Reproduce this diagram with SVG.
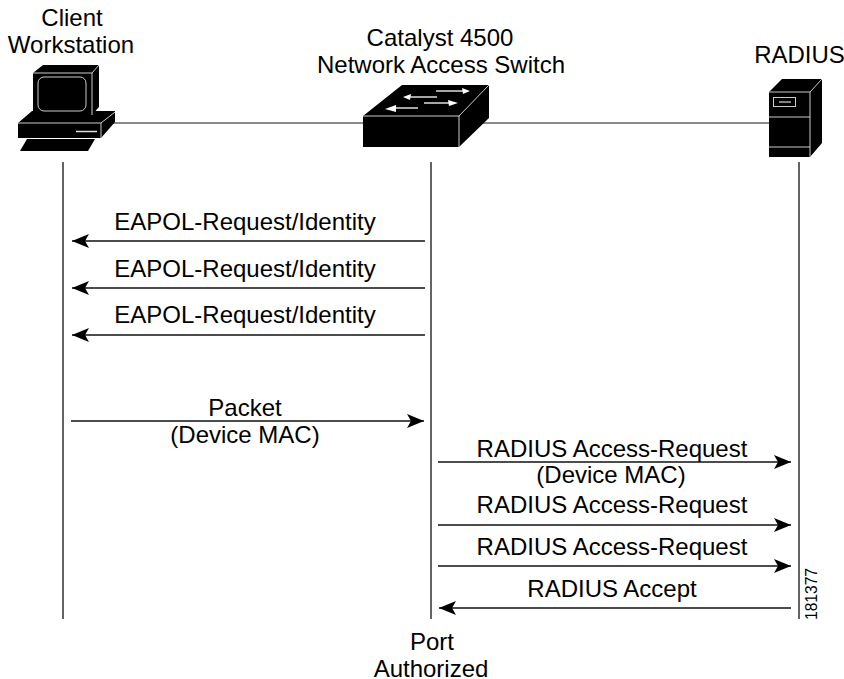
<svg xmlns="http://www.w3.org/2000/svg" width="844" height="679" viewBox="0 0 844 679">
<style>
text{font-family:"Liberation Sans",Arial,sans-serif;font-size:24px;fill:#000;text-anchor:middle}
.l{stroke:#111;stroke-width:1.300;fill:none}
.h{stroke:#666;stroke-width:1.300;fill:none}
.w{stroke:#ccc;stroke-width:1;fill:none}
.b{fill:#000}
</style>
<defs>
<marker id="a" markerUnits="userSpaceOnUse" markerWidth="18" markerHeight="14" refX="17" refY="7" orient="auto"><path d="M0 0L17 7L0 14L4 7Z" fill="#000"/></marker>
</defs>
<rect width="844" height="679" fill="#fff"/>
<g id="connectors">
<path class="h" d="M110 123H365M480 123H775"/>
<path class="l" d="M63 162V619M431 162V619M799 162V619"/>
<path class="l" marker-end="url(#a)" d="M425 241H72"/>
<path class="l" marker-end="url(#a)" d="M425 288H72"/>
<path class="l" marker-end="url(#a)" d="M425 335H72"/>
<path class="l" marker-end="url(#a)" d="M71 421H424"/>
<path class="l" marker-end="url(#a)" d="M438 462H791"/>
<path class="l" marker-end="url(#a)" d="M438 525H791"/>
<path class="l" marker-end="url(#a)" d="M438 566H791"/>
<path class="l" marker-end="url(#a)" d="M791 608H439"/>
</g>
<g id="client">
<path class="b" d="M33 73L43 65H99V107L92 115H33Z"/>
<path class="b" d="M18 123L32 111H115V122L101 138H18Z"/>
<path class="b" d="M27 139H95L88 151H20Z"/>
<path class="w" d="M33 73H92V115M92 73L99 65"/>
<rect class="w" x="38" y="77" width="48" height="34" rx="6"/>
<path d="M76 131.500H97" stroke="#ddd" stroke-width="1.500"/>
<path class="w" d="M18 123H101V138M101 123L115 112"/>
<text x="72" y="26">Client</text>
<text x="71" y="53">Workstation</text>
</g>
<g id="switch">
<path class="b" d="M363 116L402 85H489V118L459 147H363Z"/>
<path class="w" d="M363 116H459V147M459 116L489 85"/>
<path d="M436 91H466" stroke="#fff" stroke-width="1.300"/><path d="M462 88L470 91L463 94Z" fill="#fff"/>
<path d="M408 97H437" stroke="#fff" stroke-width="1.300"/><path d="M411 94L403 97L410 100Z" fill="#fff"/>
<path d="M424 103H453" stroke="#fff" stroke-width="1.300"/><path d="M448 100L458 103L449 106Z" fill="#fff"/>
<path d="M394 108H418" stroke="#fff" stroke-width="1.300"/><path d="M396 105L385 109L396 112Z" fill="#fff"/>
<text x="440" y="46">Catalyst 4500</text>
<text x="441" y="73">Network Access Switch</text>
</g>
<g id="radius">
<path class="b" d="M769 92L782 79H822V143L810 157H769Z"/>
<path class="w" d="M769 92H810V157M810 92L822 79M769 117H810M769 147H810"/>
<rect class="w" x="773.500" y="97.500" width="22" height="9"/>
<path d="M779 102H791" stroke="#aaa" stroke-width="1.500"/>
<text x="799.500" y="63">RADIUS</text>
</g>
<g id="labels">
<text x="245" y="230">EAPOL-Request/Identity</text>
<text x="245" y="277">EAPOL-Request/Identity</text>
<text x="245" y="323">EAPOL-Request/Identity</text>
<text x="245" y="416">Packet</text>
<text x="245" y="443">(Device MAC)</text>
<text x="612" y="457">RADIUS Access-Request</text>
<text x="611" y="483">(Device MAC)</text>
<text x="612" y="513">RADIUS Access-Request</text>
<text x="612" y="555">RADIUS Access-Request</text>
<text x="612" y="597">RADIUS Accept</text>
<text x="432" y="650">Port</text>
<text x="431" y="677">Authorized</text>
<text transform="translate(817 594) rotate(-90)" style="font-size:15.600px">181377</text>
</g>
</svg>
